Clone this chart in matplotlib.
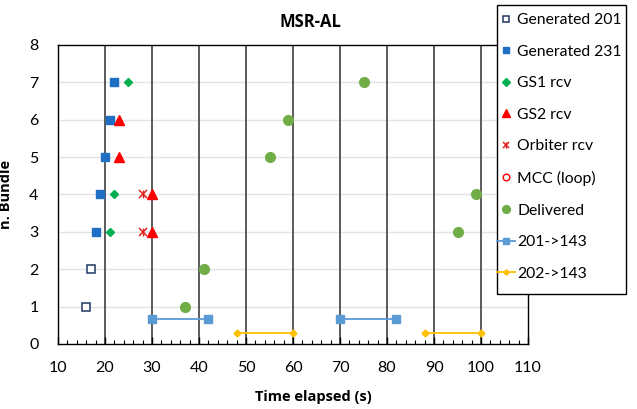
import numpy as np
import matplotlib
matplotlib.use("Agg")
import matplotlib.pyplot as plt
from matplotlib.patches import Rectangle

plt.rcParams["font.family"] = ["Lato", "DejaVu Sans"]
BOLD_FONT = ["Open Sans", "DejaVu Sans"]

# ==========================
# data
# ==========================
gen201_x = [16, 17]
gen201_y = [1, 2]

gen231_x = [18, 19, 20, 21, 22]
gen231_y = [3, 4, 5, 6, 7]

gs1_x = [21, 22, 25]
gs1_y = [3, 4, 7]

gs2_x = [30, 30, 23, 23]
gs2_y = [3, 4, 5, 6]

orb_x = [28, 28]
orb_y = [3, 4]

mcc_x = []
mcc_y = []

deliv_x = [37, 41, 95, 99, 55, 59, 75]
deliv_y = [1, 2, 3, 4, 5, 6, 7]

# contact windows (NaN = break between passes)
link201_x = [30, 42, np.nan, 70, 82]
link201_y = [0.66, 0.66, np.nan, 0.66, 0.66]

link202_x = [48, 60, np.nan, 88, 100]
link202_y = [0.3, 0.3, np.nan, 0.3, 0.3]

# ==========================
# figure
# ==========================
W, H = 637, 409
fig = plt.figure(figsize=(W / 100, H / 100), dpi=100)
ax = fig.add_axes([0.091, 0.159, 0.738, 0.731])

h1, = ax.plot(gen201_x, gen201_y, "s", ls="none", mfc="white", mec="#1F3864",
              mew=1.1, ms=6, zorder=3)
h2, = ax.plot(gen231_x, gen231_y, "s", ls="none", color="#1F6FC5",
              ms=6, zorder=3)
h3, = ax.plot(gs1_x, gs1_y, "D", ls="none", color="#00B050",
              ms=4.5, zorder=3)
h4, = ax.plot(gs2_x, gs2_y, "^", ls="none", color="#FF0000",
              ms=7, zorder=3)
h5a, = ax.plot(orb_x, orb_y, "x", ls="none", color="#E0201B",
               ms=5.5, mew=1.1, zorder=3)
h5b, = ax.plot(orb_x, orb_y, "|", ls="none", color="#E0201B",
               ms=5.5, mew=1.0, zorder=3)
h6, = ax.plot(mcc_x, mcc_y, "o", ls="none", mfc="white", mec="#FF0000",
              mew=1.0, ms=6, zorder=3)
h7, = ax.plot(deliv_x, deliv_y, "o", ls="none", color="#70AD47",
              ms=7, zorder=3)
h8, = ax.plot(link201_x, link201_y, "-s", color="#5B9BD5",
              lw=1.3, ms=5.5, zorder=3)
h9, = ax.plot(link202_x, link202_y, "-D", color="#FFC000",
              lw=1.3, ms=3.5, zorder=3)

# ==========================
# axes
# ==========================
ax.set_xlim(10, 110)
ax.set_ylim(0, 8)
ax.set_xticks(np.arange(10, 111, 10))
ax.set_xticks(np.arange(10, 111, 2), minor=True)
ax.set_yticks(np.arange(0, 9, 1))

for xv in range(20, 101, 10):
    ax.axvline(xv, color="#3f3f3f", lw=1.2, zorder=1)
for yv in range(1, 8):
    ax.axhline(yv, color="#e3e3e3", lw=1.0, zorder=0)

ax.tick_params(axis="x", which="major", direction="in", length=5,
               width=1.0, labelsize=11.5, pad=12)
ax.tick_params(axis="x", which="minor", direction="in", length=3, width=0.8)
ax.tick_params(axis="y", length=0, labelsize=11.5, pad=14)

for sp in ax.spines.values():
    sp.set_color("black")
    sp.set_linewidth(1.0)

ax.set_title("MSR-AL", fontsize=12, fontweight="bold", family=BOLD_FONT,
             x=0.538, pad=13)
ax.set_xlabel("Time elapsed (s)", fontsize=10.5, fontweight="bold",
              family=BOLD_FONT)
ax.xaxis.set_label_coords(0.543, -0.155)
ax.set_ylabel("n. Bundle", fontsize=10.5, fontweight="bold",
              family=BOLD_FONT)
ax.yaxis.set_label_coords(-0.095, 0.5)

# ==========================
# legend (own frame, overlapping the plot)
# ==========================
box = Rectangle((497 / W, 1 - 294 / H), 129 / W, 289 / H,
                transform=fig.transFigure, facecolor="white",
                edgecolor="black", lw=1.0, zorder=9)
fig.add_artist(box)

handles = [h1, h2, h3, h4, (h5a, h5b), h6, h7, h8, h9]
labels = ["Generated 201", "Generated 231", "GS1 rcv", "GS2 rcv",
          "Orbiter rcv", "MCC (loop)", "Delivered", "201->143", "202->143"]
leg = fig.legend(handles, labels, loc="upper left",
                 bbox_to_anchor=(497 / W, 1 - 13 / H),
                 fontsize=11.3, frameon=False, labelspacing=1.12,
                 handlelength=1.15, handletextpad=0.15,
                 borderpad=0, borderaxespad=0, markerscale=0.8)
leg.set_zorder(10)

fig.savefig("out.png", dpi=100)
